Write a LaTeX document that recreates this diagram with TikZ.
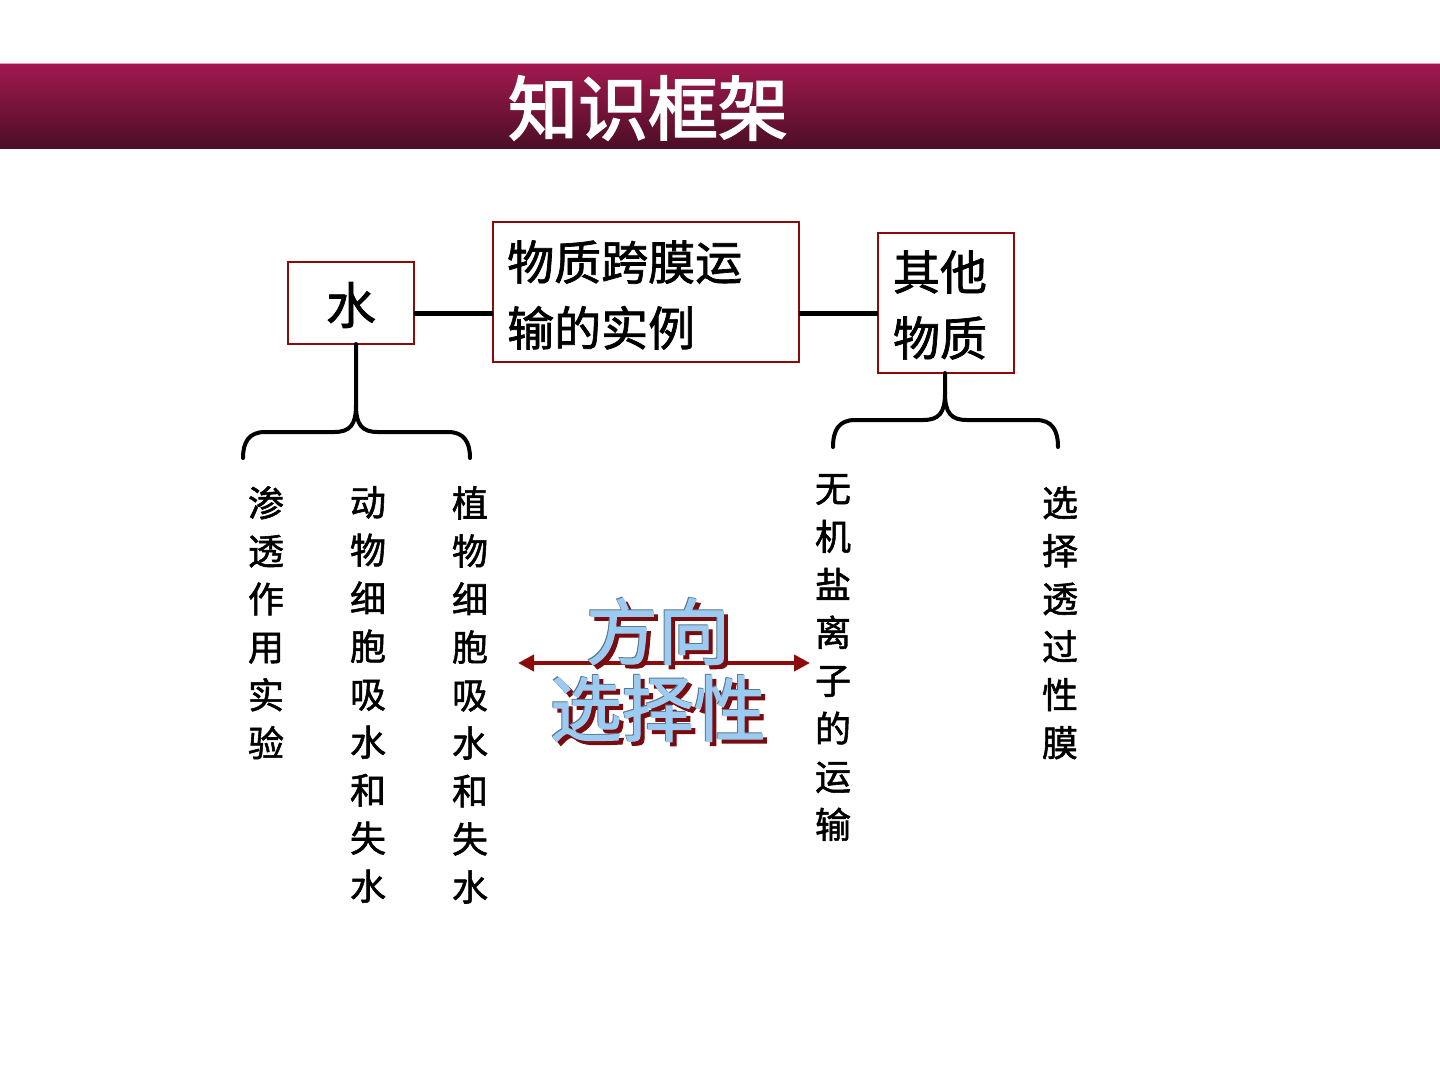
\documentclass[tikz,border=0pt]{standalone}
\usepackage{fontspec}
\usetikzlibrary{arrows.meta}
\newfontfamily\cjk{Noto Sans CJK SC}
\newfontfamily\cjkb[FakeBold=2.5]{Noto Sans CJK SC}
\newfontfamily\cjkm[FakeBold=1.5]{Noto Sans CJK SC}
\definecolor{barTop}{HTML}{A3194F}
\definecolor{barBot}{HTML}{4C0E26}
\definecolor{boxRed}{HTML}{8B0A0A}
\definecolor{arrowRed}{HTML}{8E0B0B}
\definecolor{skyBlue}{HTML}{9CCBF2}
\definecolor{shadowRed}{HTML}{7A0C10}
\newcommand{\shadowword}[1]{\makebox[0pt][l]{\kern4pt\raisebox{-4pt}{\color{shadowRed}#1}}\makebox[0pt][l]{\kern-1pt\raisebox{1pt}{\color{skyBlue!60!black}#1}}#1}
\tikzset{
  frame/.style={draw=boxRed, line width=2.5pt, fill=white},
  link/.style={line width=5pt, black},
  brace/.style={line width=4pt, black, line cap=round},
  vtext/.style={anchor=north, align=center, inner sep=0pt, font=\cjkm\fontsize{36}{48}\selectfont},
  boxtext/.style={inner sep=0pt, font=\cjkm\fontsize{47}{66}\selectfont},
  bigword/.style={text=skyBlue, inner sep=0pt, font=\cjkm\fontsize{72}{72}\selectfont},
}
\begin{document}
\begin{tikzpicture}[x=1pt,y=1pt]
\useasboundingbox (0,0) rectangle (1440,-1080);
% header bar
\shade[top color=barTop, bottom color=barBot] (0,-63) rectangle (1440,-148);
\draw[line width=1pt, color=barTop!40] (0,-63) -- (1440,-63);
\node[text=white, font=\cjkb\fontsize{70}{70}\selectfont] (title) at (648,-108) {知识框架};

% boxes
\draw[frame] (288,-262) rectangle (414,-344);
\node[boxtext, font=\cjkm\fontsize{50}{50}\selectfont] (water) at (351,-305) {水};
\coordinate (waterR) at (414,-313);
\coordinate (waterB) at (356,-344);

\draw[frame] (493,-222) rectangle (799,-362);
\node[boxtext, anchor=west, align=left] (main) at (507,-295) {物质跨膜运\\输的实例};
\coordinate (mainL) at (493,-313);
\coordinate (mainR) at (799,-313);

\draw[frame] (878,-233) rectangle (1014,-373);
\node[boxtext, align=left] (other) at (940,-305) {其他\\物质};
\coordinate (otherL) at (878,-313);
\coordinate (otherB) at (945,-373);

% links
\draw[link] (waterR) -- (mainL);
\draw[link] (mainR) -- (otherL);

% left brace
\draw[brace] (waterB) -- (356,-405)
  .. controls (356,-425) and (362,-432) .. (378,-432) -- (448,-432)
  .. controls (464,-432) and (470,-442) .. (470,-458);
\draw[brace] (356,-405)
  .. controls (356,-425) and (350,-432) .. (334,-432) -- (265,-432)
  .. controls (249,-432) and (243,-442) .. (243,-458);

% right brace
\draw[brace] (otherB) -- (945,-393)
  .. controls (945,-413) and (951,-420) .. (967,-420) -- (1036,-420)
  .. controls (1052,-420) and (1058,-430) .. (1058,-447);
\draw[brace] (945,-393)
  .. controls (945,-413) and (939,-420) .. (923,-420) -- (855,-420)
  .. controls (839,-420) and (833,-430) .. (833,-447);

% vertical texts
\node[vtext] (c1) at (266,-486) {渗\\透\\作\\用\\实\\验};
\node[vtext] (c2) at (368,-486) {动\\物\\细\\胞\\吸\\水\\和\\失\\水};
\node[vtext] (c3) at (470,-486) {植\\物\\细\\胞\\吸\\水\\和\\失\\水};
\node[vtext] (c4) at (833,-474) {无\\机\\盐\\离\\子\\的\\运\\输};
\node[vtext] (c5) at (1060,-486) {选\\择\\透\\过\\性\\膜};

% double arrow
\coordinate (aL) at (518,-663);
\coordinate (aR) at (810,-663);
\draw[arrowRed, line width=4pt, {Triangle[length=16pt,width=16pt]}-{Triangle[length=16pt,width=16pt]}] (aL) -- (aR);

% shadowed words
\node[bigword] (w1) at (658,-633) {\shadowword{方向}};
\node[bigword] (w2) at (658,-710) {\shadowword{选择性}};
\end{tikzpicture}
\end{document}
